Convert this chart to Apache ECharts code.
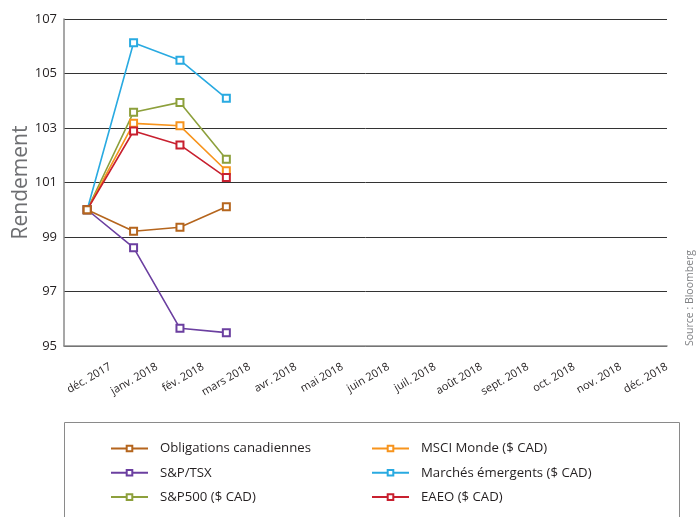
<!DOCTYPE html>
<html>
<head>
<meta charset="utf-8">
<script src="https://cdn.jsdelivr.net/npm/echarts@6/dist/echarts.min.js"></script>
<style>
  html, body { margin: 0; padding: 0; background: #fff; }
  #chart { width: 697px; height: 517px; }
</style>
</head>
<body>
<div id="chart"></div>
<script>
// Month categories (only the first four carry data)
const months = ['déc. 2017', 'janv. 2018', 'fév. 2018', 'mars 2018', 'avr. 2018', 'mai 2018',
  'juin 2018', 'juil. 2018', 'août 2018', 'sept. 2018', 'oct. 2018', 'nov. 2018', 'déc. 2018'];

// Index levels, base 100 at end of December 2017
const obligations = [100, 99.21, 99.36, 100.11];
const spTsx = [100, 98.61, 95.65, 95.49];
const sp500 = [100, 103.58, 103.94, 101.85];
const msciMonde = [100, 103.17, 103.08, 101.43];
const emergents = [100, 106.13, 105.49, 104.09];
const eaeo = [100, 102.89, 102.38, 101.18];

const seriesNames = ['Obligations canadiennes', 'S&P/TSX', 'S&P500 ($ CAD)',
  'MSCI Monde ($ CAD)', 'Marchés émergents ($ CAD)', 'EAEO ($ CAD)'];
const seriesValues = [obligations, spTsx, sp500, msciMonde, emergents, eaeo];
const seriesColors = ['#B5651D', '#6B3FA0', '#8DA03C', '#F7941D', '#29AAE1', '#C8202F'];

const FONT = '"Open Sans", sans-serif';

const series = seriesNames.map((name, i) => ({
  name: name,
  type: 'line',
  data: seriesValues[i],
  symbol: 'emptyRect',
  symbolSize: 7,
  z: i === 0 ? 5 : 2,
  color: seriesColors[i],
  lineStyle: { width: 1.6, color: seriesColors[i] },
  itemStyle: { color: seriesColors[i], borderWidth: 1.2 },
  emphasis: { disabled: true },
  animation: false
}));

const chart = echarts.init(document.getElementById('chart'), null, { renderer: 'canvas' });

const legendCommon = {
  orient: 'vertical',
  height: 90,
  itemWidth: 37,
  itemHeight: 7,
  itemGap: 11.3,
  textStyle: { fontFamily: FONT, fontSize: 13.2, color: '#231F20', padding: [0, 0, 0, 7] },
  selectedMode: false
};

chart.setOption({
  animation: false,
  grid: { left: 64, top: 19, width: 603, height: 327, outerBoundsMode: 'none' },
  xAxis: [
    {
      type: 'category',
      data: months,
      boundaryGap: true,
      axisLine: { lineStyle: { color: '#8a8a8a', width: 1.5 } },
      axisTick: { inside: true, length: 8, lineStyle: { color: '#555', width: 1 } },
      axisLabel: { show: false },
      splitLine: { show: false }
    },
    {
      // labels placed on the tick marks closing each month
      type: 'category',
      data: [''].concat(months),
      boundaryGap: false,
      position: 'bottom',
      axisLine: { show: false },
      axisTick: { show: false },
      axisLabel: {
        rotate: 30,
        interval: 0,
        margin: 20,
        fontFamily: FONT,
        fontSize: 11,
        color: '#231F20'
      },
      splitLine: { show: false }
    }
  ],
  yAxis: {
    type: 'value',
    min: 95,
    max: 107,
    interval: 2,
    name: 'Rendement',
    nameLocation: 'middle',
    nameGap: 32,
    nameMoveOverlap: false,
    nameTextStyle: { fontFamily: FONT, fontSize: 21, color: '#6d6e71' },
    axisLine: { show: true, lineStyle: { color: '#8a8a8a', width: 1.5 } },
    axisTick: { show: false },
    axisLabel: { fontFamily: FONT, fontSize: 13, color: '#231F20', margin: 7 },
    splitLine: { lineStyle: { color: '#333', width: 1 } }
  },
  legend: [
    Object.assign({ left: 105, top: 437, data: seriesNames.slice(0, 3) }, legendCommon),
    Object.assign({ left: 366, top: 437, data: seriesNames.slice(3) }, legendCommon)
  ],
  graphic: [
    {
      type: 'rect',
      shape: { x: 64.5, y: 422.5, width: 615, height: 120 },
      style: { fill: 'none', stroke: '#8a8a8a', lineWidth: 1 },
      silent: true
    },
    {
      type: 'text',
      x: 690,
      y: 298,
      rotation: Math.PI / 2,
      style: {
        text: 'Source : Bloomberg',
        fontFamily: FONT,
        fontSize: 10.5,
        fill: '#808285',
        align: 'center',
        verticalAlign: 'middle'
      },
      silent: true
    }
  ],
  series: series
});
</script>
</body>
</html>
